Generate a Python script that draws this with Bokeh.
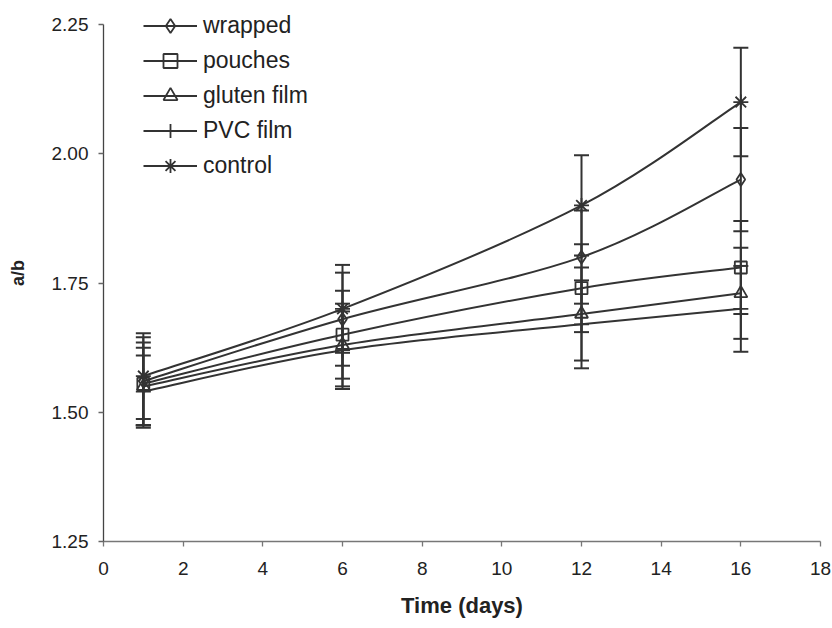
from bokeh.plotting import figure
from bokeh.models import (Range1d, Whisker, ColumnDataSource, Legend, LegendItem,
                          FixedTicker, TeeHead)
from bokeh.embed import file_html
from bokeh.resources import INLINE

# ---------------- data ----------------
days = [1, 6, 12, 16]
series_names = ["wrapped", "pouches", "gluten film", "PVC film", "control"]
wrapped = [1.56, 1.68, 1.80, 1.95]
wrapped_sd = [0.085, 0.09, 0.09, 0.10]
pouches = [1.555, 1.65, 1.74, 1.78]
pouches_sd = [0.08, 0.085, 0.085, 0.09]
gluten_film = [1.55, 1.63, 1.69, 1.73]
gluten_film_sd = [0.075, 0.08, 0.09, 0.088]
pvc_film = [1.54, 1.62, 1.67, 1.70]
pvc_film_sd = [0.07, 0.075, 0.085, 0.083]
control = [1.57, 1.70, 1.90, 2.10]
control_sd = [0.083, 0.085, 0.097, 0.105]
x_ticks = [0, 2, 4, 6, 8, 10, 12, 14, 16, 18]
y_ticks = [1.25, 1.50, 1.75, 2.00, 2.25]

series_values = [wrapped, pouches, gluten_film, pvc_film, control]
series_sd = [wrapped_sd, pouches_sd, gluten_film_sd, pvc_film_sd, control_sd]
markers = ["diamond", "square", "triangle", "cross", "asterisk"]
marker_sizes = [13, 12, 13, 15, 15]

INK = "#333333"
FONT = "Liberation Sans"

# frame extends a little above 2.25 so the legend's first row is not clipped;
# the axis line itself is bounded to the tick range
y_lo, y_hi_tick = y_ticks[0], y_ticks[-1]
y_hi = y_lo + (y_hi_tick - y_lo) * 537.0 / 517.0

p = figure(width=832, height=628, output_backend="svg", toolbar_location=None,
           x_range=Range1d(x_ticks[0], x_ticks[-1]), y_range=Range1d(y_lo, y_hi),
           min_border_left=103, min_border_right=12, min_border_top=4,
           min_border_bottom=87)
p.outline_line_color = None
p.xgrid.visible = False
p.ygrid.visible = False
p.background_fill_color = "white"
p.border_fill_color = "white"

for ax in (p.xaxis[0], p.yaxis[0]):
    ax.major_tick_out = 5
    ax.major_tick_in = 0
    ax.minor_tick_line_color = None
    ax.major_label_text_font = FONT
    ax.major_label_text_font_size = "19px"
    ax.major_label_text_color = "#222222"
    ax.axis_label_text_font = FONT
    ax.axis_label_text_font_style = "bold"
    ax.axis_label_text_color = "#222222"

p.yaxis.axis_line_color = "#444444"
p.yaxis.axis_line_width = 1.3
p.yaxis.major_tick_line_color = "#666666"
p.yaxis.major_tick_line_width = 1.3
p.xaxis.axis_line_color = "#777777"
p.xaxis.axis_line_width = 1.6
p.xaxis.major_tick_line_color = "#777777"
p.xaxis.major_tick_line_width = 1.3

p.yaxis.bounds = (y_lo, y_hi_tick)
p.xaxis.ticker = FixedTicker(ticks=x_ticks)
p.yaxis.ticker = FixedTicker(ticks=y_ticks)
p.yaxis.major_label_overrides = {t: f"{t:.2f}" for t in y_ticks}
p.xaxis.major_label_standoff = 15
p.yaxis.major_label_standoff = 10
p.xaxis.axis_label = "Time (days)"
p.xaxis.axis_label_text_font_size = "22px"
p.xaxis.axis_label_standoff = 15
p.yaxis.axis_label = "a/b"
p.yaxis.axis_label_text_font_size = "18px"
p.yaxis.axis_label_standoff = 21

legend_items = []
for name, vals, sds, mk, ms in zip(series_names, series_values, series_sd, markers, marker_sizes):
    n = len(days)
    P = list(zip(days, vals))
    def pt(i):
        return P[max(0, min(n - 1, i))]
    x0, y0, x1, y1, cx0, cy0, cx1, cy1 = [], [], [], [], [], [], [], []
    for i in range(n - 1):
        pm, pa, pb, pn = pt(i - 1), pt(i), pt(i + 1), pt(i + 2)
        x0.append(pa[0]); y0.append(pa[1]); x1.append(pb[0]); y1.append(pb[1])
        cx0.append(pa[0] + (pb[0] - pm[0]) / 6.0)
        cy0.append(pa[1] + (pb[1] - pm[1]) / 6.0)
        cx1.append(pb[0] - (pn[0] - pa[0]) / 6.0)
        cy1.append(pb[1] - (pn[1] - pa[1]) / 6.0)
    bez = p.bezier(x0=x0, y0=y0, x1=x1, y1=y1, cx0=cx0, cy0=cy0, cx1=cx1, cy1=cy1,
                   line_color=INK, line_width=2)
    src = ColumnDataSource(dict(x=days, y=vals,
                                upper=[v + s for v, s in zip(vals, sds)],
                                lower=[v - s for v, s in zip(vals, sds)]))
    w = Whisker(source=src, base="x", upper="upper", lower="lower",
                line_color=INK, line_width=2,
                upper_head=TeeHead(size=15, line_color=INK, line_width=2),
                lower_head=TeeHead(size=15, line_color=INK, line_width=2))
    p.add_layout(w)
    sc = p.scatter("x", "y", source=src, marker=mk, size=ms,
                   line_color=INK, line_width=1.8, fill_alpha=0)
    legend_items.append(LegendItem(label=name, renderers=[bez, sc]))

legend = Legend(items=legend_items, location=(40, 358), orientation="vertical",
                glyph_width=54, glyph_height=35, label_height=35, spacing=0,
                padding=0, margin=0, label_standoff=6,
                label_text_font=FONT, label_text_font_size="23px",
                label_text_color="#222222",
                border_line_alpha=0, background_fill_alpha=0)
p.add_layout(legend)

open("out.html", "w").write(file_html(p, INLINE))
